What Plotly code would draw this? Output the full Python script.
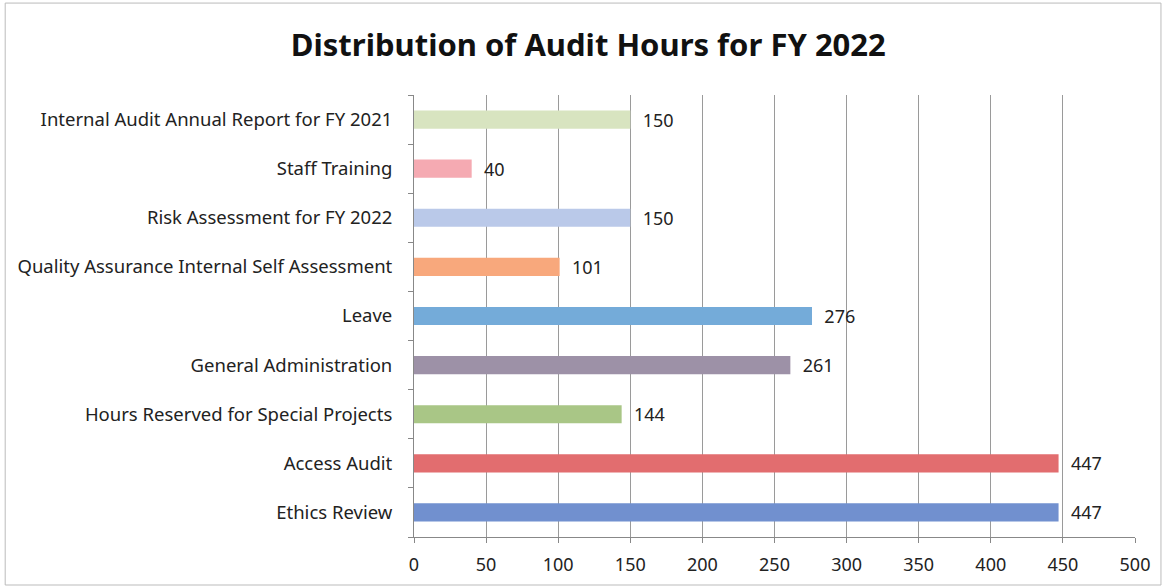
import plotly.graph_objects as go

# Data (bottom to top)
categories = [
    "Ethics Review",
    "Access Audit",
    "Hours Reserved for Special Projects",
    "General Administration",
    "Leave",
    "Quality Assurance Internal Self Assessment",
    "Risk Assessment for FY 2022",
    "Staff Training",
    "Internal Audit Annual Report for FY 2021",
]
hours = [447, 447, 144, 261, 276, 101, 150, 40, 150]
bar_colors = [
    "#7190cf", "#e26d6f", "#a9c686", "#9d91a7", "#74abd9",
    "#f8a87c", "#bac9e9", "#f5aab2", "#d8e4c0",
]

font_family = "Noto Sans, Open Sans, sans-serif"

fig = go.Figure(
    go.Bar(
        x=hours,
        y=categories,
        orientation="h",
        marker=dict(color=bar_colors, line=dict(width=0)),
        width=0.37,
        texttemplate="  %{x}",
        textposition="outside",
        constraintext="none",
        textfont=dict(size=18, color="#222"),
        cliponaxis=False,
    )
)

fig.update_layout(
    title=dict(
        text="<b>Distribution of Audit Hours for FY 2022</b>",
        x=0.505, xanchor="center", y=0.923, yanchor="middle",
        font=dict(size=31, color="#111", family=font_family),
    ),
    width=1165,
    height=587,
    margin=dict(l=414, r=30, t=95, b=50),
    paper_bgcolor="white",
    plot_bgcolor="white",
    font=dict(family=font_family, size=18, color="#222"),
    showlegend=False,
    shapes=[
        dict(type="rect", xref="paper", yref="paper",
             x0=-0.567, x1=1.036, y0=-0.1086, y1=1.208,
             line=dict(color="#bbbbbb", width=1)),
    ],
)

fig.update_xaxes(
    range=[0, 500],
    dtick=50,
    showgrid=True,
    gridcolor="#9a9a9a",
    gridwidth=1,
    showline=True,
    linecolor="#888",
    ticks="outside",
    ticklen=5,
    tickcolor="#888",
    tickfont=dict(size=18),
    ticklabelstandoff=6,
    zeroline=False,
)
fig.update_yaxes(
    showline=True,
    linecolor="#888",
    ticks="outside",
    tickson="boundaries",
    ticklen=5,
    tickcolor="#888",
    tickfont=dict(size=18.5),
    ticklabelstandoff=17,
    showgrid=False,
)

fig.write_html(
    "out.html",
    config={"displayModeBar": False},
    post_script="document.body.style.margin='0';",
)
